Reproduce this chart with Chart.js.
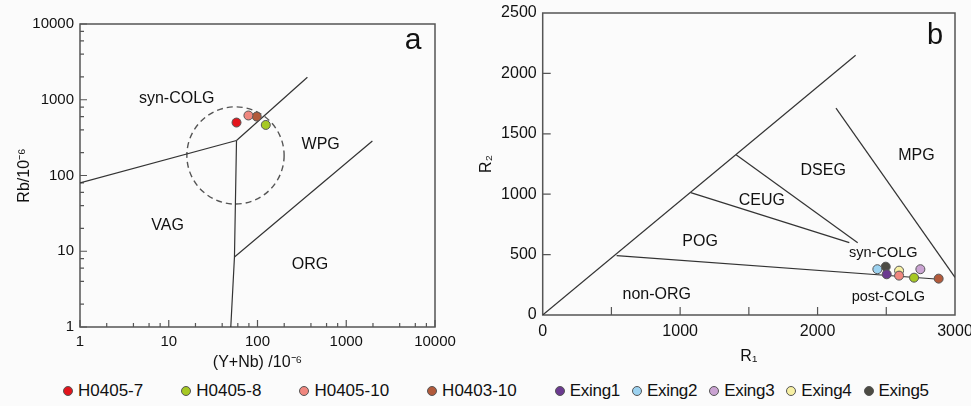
<!DOCTYPE html>
<html>
<head>
<meta charset="utf-8">
<script src="https://cdn.jsdelivr.net/npm/chart.js@4.4.0/dist/chart.umd.min.js"></script>
<style>
  html, body { margin: 0; padding: 0; background: #fbfbfb; }
  body { width: 971px; height: 406px; position: relative; overflow: hidden; font-family: "Liberation Sans", Arial, sans-serif; color: #111; }
  #wrapA { position: absolute; left: 0; top: 0; width: 480px; height: 372px; }
  #wrapB { position: absolute; left: 470px; top: 0; width: 501px; height: 372px; }
  #legend { position: absolute; left: 63px; top: 380px; height: 22px; display: flex; align-items: center; }
  .item { display: flex; align-items: center; }
  .dot { width: 8px; height: 8px; border-radius: 50%; border: 1px solid #555; margin-right: 5px; }
  .h { font-size: 17px; margin-right: 38px; }
  .e { font-size: 17px; margin-right: 12px; letter-spacing: -0.3px; }
</style>
</head>
<body>
<div id="wrapA"><canvas id="chartA"></canvas></div>
<div id="wrapB"><canvas id="chartB"></canvas></div>
<div id="legend"></div>
<script>
// ---- panel a: Rb vs (Y+Nb), log-log ----
const aTicks = [1, 10, 100, 1000, 10000];
const aSamples = ['H0405-7', 'H0405-8', 'H0405-10', 'H0403-10'];
const aYNb = [58, 124, 79, 98];
const aRb = [500, 465, 620, 600];

// field boundaries (Y+Nb, Rb)
const aLineVagColg = [[1, 80], [58, 290]];
const aLineColgWpg = [[58, 290], [365, 1980]];
const aLineVertical = [[58, 290], [55, 8.4], [50, 1]];
const aLineWpgOrg = [[55, 8.4], [1970, 285]];

const aFields = ['syn-COLG', 'WPG', 'VAG', 'ORG'];
const aFieldX = [12.3, 515, 9.7, 390];
const aFieldY = [1045, 258, 21.5, 6.7];

// dashed circle: centre and a point on its rim (same Rb)
const aCircleCentre = [56.5, 184];
const aCircleRimX = 16;

// ---- panel b: R1-R2 ----
const bTicksX = [0, 1000, 2000, 3000];
const bTicksY = [0, 500, 1000, 1500, 2000, 2500];
const bSamples = ['Exing5', 'Exing4', 'Exing2', 'Exing3', 'Exing1', 'H0405-10', 'H0405-8', 'H0403-10'];
const bR1 = [2496, 2593, 2435, 2748, 2503, 2593, 2702, 2881];
const bR2 = [400, 367, 379, 379, 337, 326, 309, 301];

const bLineDiag = [[0, 0], [2277, 2150]];
const bLineLow = [[538, 491], [2885, 296]];
const bLineCeug = [[1077, 1013], [2231, 599]];
const bLineDseg = [[1407, 1326], [2292, 599]];
const bLineMpg = [[2134, 1713], [3000, 312]];

const bFields = ['MPG', 'DSEG', 'CEUG', 'POG', 'syn-COLG', 'non-ORG', 'post-COLG'];
const bFieldX = [2720, 2041, 1594, 1145, 2478, 830, 2515];
const bFieldY = [1320, 1196, 944, 611, 516, 166, 152];

const legendNames = ['H0405-7', 'H0405-8', 'H0405-10', 'H0403-10', 'Exing1', 'Exing2', 'Exing3', 'Exing4', 'Exing5'];

const colors = {
  'H0405-7': '#e3141c', 'H0405-8': '#a6c823', 'H0405-10': '#f0877f', 'H0403-10': '#b25a3b',
  'Exing1': '#6b3a90', 'Exing2': '#9cd2f0', 'Exing3': '#caa3d2', 'Exing4': '#f7f0a4', 'Exing5': '#4c4b43'
};

const FONT = '"Liberation Sans", Arial, sans-serif';
Chart.defaults.font.family = FONT;
Chart.defaults.color = '#111';

function toPts(arr) { return arr.map(p => ({ x: p[0], y: p[1] })); }
function lineSet(arr) {
  return { type: 'line', data: toPts(arr), borderColor: '#333', borderWidth: 1.2, pointRadius: 0, fill: false, order: 5, tension: 0 };
}
function pointSet(name, xs, ys, i) {
  return { type: 'scatter', label: name, data: [{ x: xs[i], y: ys[i] }], backgroundColor: colors[name], borderColor: '#555', borderWidth: 1, pointRadius: 4.5, order: 1 };
}

// frame, inner tick marks, text fields, circle
const decor = {
  id: 'decor',
  beforeDatasetsDraw(chart, args, o) {
    const { ctx, chartArea: ca, scales: { x, y } } = chart;
    ctx.save();
    ctx.strokeStyle = '#555';
    ctx.lineWidth = 1.5;
    ctx.strokeRect(ca.left, ca.top, ca.right - ca.left, ca.bottom - ca.top);
    ctx.lineWidth = 1.2;
    ctx.beginPath();
    o.xMajor.forEach(v => { const px = x.getPixelForValue(v); ctx.moveTo(px, ca.bottom); ctx.lineTo(px, ca.bottom - o.major); });
    o.xMinor.forEach(v => { const px = x.getPixelForValue(v); ctx.moveTo(px, ca.bottom); ctx.lineTo(px, ca.bottom - o.minor); });
    o.yMajor.forEach(v => { const py = y.getPixelForValue(v); ctx.moveTo(ca.left, py); ctx.lineTo(ca.left + o.major, py); });
    o.yMinor.forEach(v => { const py = y.getPixelForValue(v); ctx.moveTo(ca.left, py); ctx.lineTo(ca.left + o.minor, py); });
    ctx.stroke();
    if (o.circle) {
      const cx = x.getPixelForValue(o.circle.c[0]);
      const cy = y.getPixelForValue(o.circle.c[1]);
      const r = cx - x.getPixelForValue(o.circle.rimX);
      ctx.setLineDash([6, 4]);
      ctx.strokeStyle = '#555';
      ctx.lineWidth = 1.4;
      ctx.beginPath();
      ctx.arc(cx, cy, r, 0, Math.PI * 2);
      ctx.stroke();
      ctx.setLineDash([]);
    }
    ctx.fillStyle = '#111';
    ctx.textAlign = 'center';
    ctx.textBaseline = 'middle';
    o.fields.forEach((t, i) => {
      ctx.font = (o.fieldSize[i] || 16) + 'px ' + FONT;
      ctx.fillText(t, x.getPixelForValue(o.fx[i]), y.getPixelForValue(o.fy[i]));
    });
    ctx.font = o.letterSize + 'px ' + FONT;
    ctx.fillText(o.letter, ca.right - o.letterDx, ca.top + o.letterDy);
    ctx.restore();
  }
};

const tickFont = { size: 15 };
const tickFontB = { size: 16 };
const titleFont = { size: 16 };

// ---- chart a ----
const minorA = [];
[1, 10, 100, 1000].forEach(d => [2, 4, 6, 8].forEach(m => minorA.push(d * m)));

new Chart(document.getElementById('chartA'), {
  data: {
    datasets: [
      ...aSamples.map((n, i) => pointSet(n, aYNb, aRb, i)),
      lineSet(aLineVagColg), lineSet(aLineColgWpg), lineSet(aLineVertical), lineSet(aLineWpgOrg)
    ]
  },
  options: {
    responsive: true, maintainAspectRatio: false, animation: false,
    layout: { padding: { top: 24, right: 45, left: 0, bottom: 0 } },
    plugins: {
      legend: { display: false }, tooltip: { enabled: false },
      decor: {
        xMajor: aTicks, xMinor: minorA, yMajor: aTicks, yMinor: minorA, major: 7, minor: 4,
        circle: { c: aCircleCentre, rimX: aCircleRimX },
        fields: aFields, fx: aFieldX, fy: aFieldY, fieldSize: [16, 16, 16, 16],
        letter: 'a', letterSize: 30, letterDx: 22, letterDy: 17
      }
    },
    scales: {
      x: {
        type: 'logarithmic', min: 1, max: 10000,
        grid: { display: false, drawTicks: false }, border: { display: false },
        ticks: { font: tickFont, color: '#111', padding: 6, maxRotation: 0, autoSkip: false, callback: v => String(v) },
        afterBuildTicks: s => { s.ticks = aTicks.map(v => ({ value: v })); },
        title: { display: true, text: '(Y+Nb) /10⁻⁶', font: titleFont, color: '#111', padding: { top: 0, bottom: 0 } },
        afterFit: s => { s.height = 45; s.paddingLeft = 0; s.paddingRight = 0; }
      },
      y: {
        type: 'logarithmic', min: 1, max: 10000,
        grid: { display: false, drawTicks: false }, border: { display: false },
        ticks: { font: tickFont, color: '#111', padding: 6, autoSkip: false, callback: v => String(v) },
        afterBuildTicks: s => { s.ticks = aTicks.map(v => ({ value: v })); },
        title: { display: true, text: 'Rb/10⁻⁶', font: titleFont, color: '#111', padding: { top: 15, bottom: 0 } },
        afterFit: s => { s.width = 80; s.paddingTop = 0; s.paddingBottom = 0; }
      }
    }
  },
  plugins: [decor]
});

// ---- chart b ----
new Chart(document.getElementById('chartB'), {
  data: {
    datasets: [
      ...bSamples.map((n, i) => Object.assign(pointSet(n, bR1, bR2, i), { order: 1 + (bSamples.length - i) * 0.01 })),
      lineSet(bLineDiag), lineSet(bLineLow), lineSet(bLineCeug), lineSet(bLineDseg), lineSet(bLineMpg)
    ]
  },
  options: {
    responsive: true, maintainAspectRatio: false, animation: false,
    layout: { padding: { top: 13, right: 16, left: 0, bottom: 0 } },
    plugins: {
      legend: { display: false }, tooltip: { enabled: false },
      decor: {
        xMajor: [500, 1000, 1500, 2000, 2500], xMinor: [], yMajor: [500, 1000, 1500, 2000], yMinor: [], major: 8, minor: 0,
        fields: bFields, fx: bFieldX, fy: bFieldY, fieldSize: [16, 16, 16, 16, 14.5, 16, 14.5],
        letter: 'b', letterSize: 29, letterDx: 20, letterDy: 23
      }
    },
    scales: {
      x: {
        type: 'linear', min: 0, max: 3000,
        grid: { display: false, drawTicks: false }, border: { display: false },
        ticks: { font: tickFontB, color: '#111', padding: 7, maxRotation: 0, autoSkip: false, callback: v => String(v) },
        afterBuildTicks: s => { s.ticks = bTicksX.map(v => ({ value: v })); },
        title: { display: true, text: 'R₁', font: titleFont, color: '#111', padding: { top: 0, bottom: 6 } },
        afterFit: s => { s.height = 57; s.paddingLeft = 0; s.paddingRight = 0; }
      },
      y: {
        type: 'linear', min: 0, max: 2500,
        grid: { display: false, drawTicks: false }, border: { display: false },
        ticks: { font: tickFontB, color: '#111', padding: 6, autoSkip: false, callback: v => String(v) },
        afterBuildTicks: s => { s.ticks = bTicksY.map(v => ({ value: v })); },
        title: { display: true, text: 'R₂', font: titleFont, color: '#111', padding: { top: 7, bottom: 0 } },
        afterFit: s => { s.width = 72.7; s.paddingTop = 0; s.paddingBottom = 0; }
      }
    }
  },
  plugins: [decor]
});

// ---- legend under both panels ----
const legendEl = document.getElementById('legend');
legendNames.forEach(n => {
  const it = document.createElement('div');
  it.className = 'item ' + (n.startsWith('H') ? 'h' : 'e');
  const d = document.createElement('span'); d.className = 'dot'; d.style.background = colors[n];
  const t = document.createElement('span'); t.textContent = n;
  it.appendChild(d); it.appendChild(t);
  legendEl.appendChild(it);
});
</script>
</body>
</html>
